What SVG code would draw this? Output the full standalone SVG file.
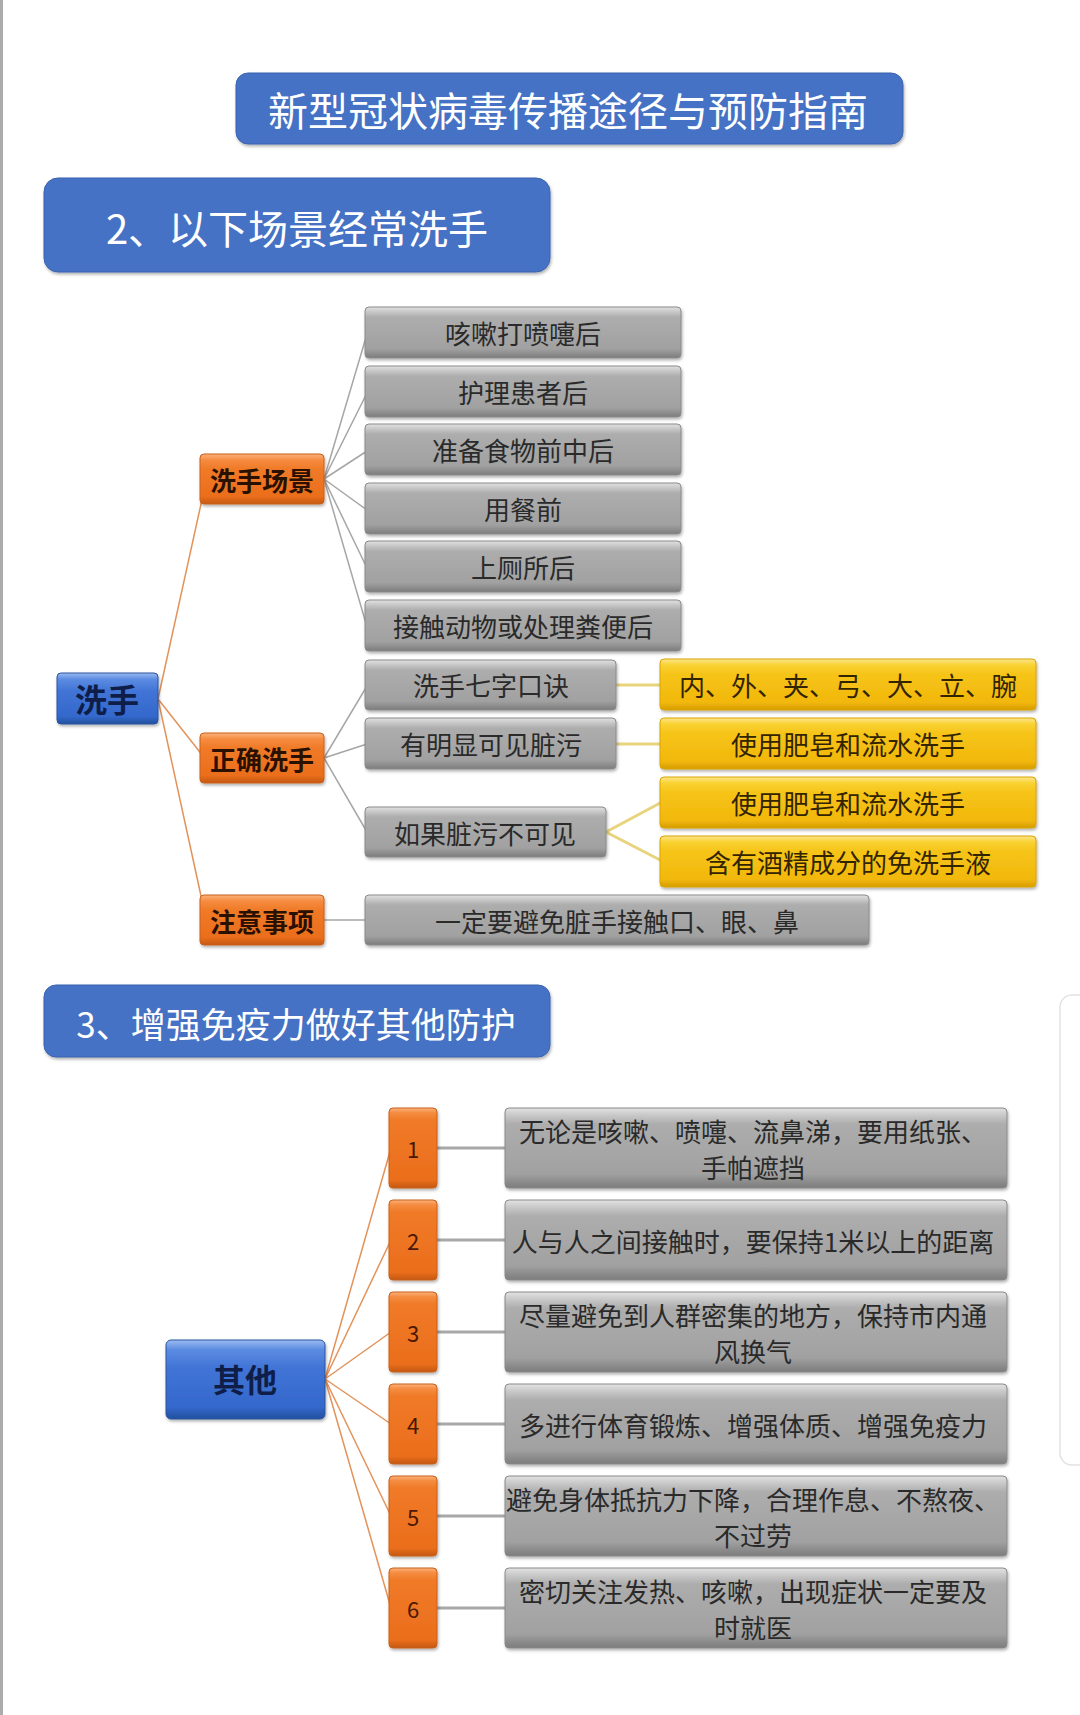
<svg xmlns="http://www.w3.org/2000/svg" width="1080" height="1715" viewBox="0 0 1080 1715">
<defs>
<linearGradient id="gGray" x1="0" y1="0" x2="0" y2="1">
<stop offset="0" stop-color="#e2e2e2"/><stop offset="0.1" stop-color="#c6c6c6"/><stop offset="0.2" stop-color="#adadad"/><stop offset="0.82" stop-color="#a1a1a1"/><stop offset="1" stop-color="#7c7c7c"/>
</linearGradient>
<linearGradient id="gOrange" x1="0" y1="0" x2="0" y2="1">
<stop offset="0" stop-color="#fbb27c"/><stop offset="0.12" stop-color="#f58c40"/><stop offset="0.3" stop-color="#f07a28"/><stop offset="0.85" stop-color="#eb6e1c"/><stop offset="1" stop-color="#c45810"/>
</linearGradient>
<linearGradient id="gOrangeV" x1="0" y1="0" x2="0" y2="1">
<stop offset="0" stop-color="#fbb27c"/><stop offset="0.06" stop-color="#f58c40"/><stop offset="0.15" stop-color="#f07a28"/><stop offset="0.9" stop-color="#eb6e1c"/><stop offset="1" stop-color="#c45810"/>
</linearGradient>
<linearGradient id="gYellow" x1="0" y1="0" x2="0" y2="1">
<stop offset="0" stop-color="#fde68c"/><stop offset="0.12" stop-color="#f9d232"/><stop offset="0.3" stop-color="#f6c418"/><stop offset="0.85" stop-color="#f2b80c"/><stop offset="1" stop-color="#d59c00"/>
</linearGradient>
<linearGradient id="gBlue" x1="0" y1="0" x2="0" y2="1">
<stop offset="0" stop-color="#9cbcf2"/><stop offset="0.12" stop-color="#5c8ce2"/><stop offset="0.35" stop-color="#4174d6"/><stop offset="0.85" stop-color="#3468cc"/><stop offset="1" stop-color="#22509e"/>
</linearGradient>
<filter id="sh" x="-10%" y="-10%" width="120%" height="130%">
<feDropShadow dx="1" dy="2" stdDeviation="1.5" flood-color="#000" flood-opacity="0.3"/>
</filter>
</defs>
<style>
text{font-family:"Noto Sans CJK SC","Noto Sans",sans-serif;text-anchor:middle;dominant-baseline:central}
.title{fill:#4472c4;stroke:#3b64ae;stroke-width:1}
.tt{fill:#fff;font-size:40px}
.gray{fill:url(#gGray);stroke:#8a8a8a;stroke-width:1}
.org{fill:url(#gOrange);stroke:#c8601a;stroke-width:1}
.orgv{fill:url(#gOrangeV);stroke:#c8601a;stroke-width:1}
.yel{fill:url(#gYellow);stroke:#d8a400;stroke-width:1}
.blue{fill:url(#gBlue);stroke:#2a559e;stroke-width:1}
.tg{fill:#2a2a2a;font-size:26px}
.to{fill:#2a1000;font-size:26px;font-weight:bold}
.ty{fill:#332400;font-size:26px}
.tb{fill:#0e1e48;font-size:32px;font-weight:bold}
.tn{fill:#4a1800;font-size:22px}
.lo{stroke:#e3925a;stroke-width:1.5;fill:none}
.lg{stroke:#a6a6a6;stroke-width:1.5;fill:none}
.ly{stroke:#e8d47c;stroke-width:3;fill:none}
.lg2{stroke:#a8a8a8;stroke-width:3;fill:none}
</style>
<rect x="0" y="0" width="1080" height="1715" fill="#ffffff"/>
<rect x="0" y="0" width="3" height="1715" fill="#ababab"/>
<rect x="1060" y="995" width="40" height="470" rx="12" fill="none" stroke="#e2e2e2" stroke-width="1.5"/>

<g id="title">
<rect class="title" x="236" y="73" width="667" height="71" rx="12" filter="url(#sh)"/>
<text class="tt" x="568" y="109">新型冠状病毒传播途径与预防指南</text>
</g>
<g id="header2">
<rect class="title" x="44" y="178" width="506" height="94" rx="14" filter="url(#sh)"/>
<text class="tt" x="297" y="227">2、以下场景经常洗手</text>
</g>
<g id="header3">
<rect class="title" x="44" y="985" width="506" height="72" rx="12" filter="url(#sh)"/>
<text class="tt" x="296" y="1022" style="font-size:35px">3、增强免疫力做好其他防护</text>
</g>

<g id="connectors">
<line class="lo" x1="158" y1="699" x2="203" y2="495"/>
<line class="lo" x1="158" y1="699" x2="203" y2="756"/>
<line class="lo" x1="158" y1="699" x2="203" y2="905"/>
<line class="lg" x1="324" y1="479" x2="367" y2="334"/>
<line class="lg" x1="324" y1="479" x2="367" y2="393"/>
<line class="lg" x1="324" y1="479" x2="367" y2="451"/>
<line class="lg" x1="324" y1="479" x2="367" y2="510"/>
<line class="lg" x1="324" y1="479" x2="367" y2="568"/>
<line class="lg" x1="324" y1="479" x2="367" y2="627"/>
<line class="lg" x1="324" y1="758" x2="367" y2="686"/>
<line class="lg" x1="324" y1="758" x2="367" y2="744"/>
<line class="lg" x1="324" y1="758" x2="367" y2="832"/>
<line class="lg" x1="324" y1="920" x2="367" y2="920"/>
<line class="ly" x1="616" y1="685" x2="662" y2="685"/>
<line class="ly" x1="616" y1="744" x2="662" y2="744"/>
<line class="ly" x1="606" y1="832" x2="662" y2="802"/>
<line class="ly" x1="606" y1="832" x2="662" y2="861"/>
<line class="lo" x1="325" y1="1379" x2="391" y2="1148"/>
<line class="lo" x1="325" y1="1379" x2="391" y2="1240"/>
<line class="lo" x1="325" y1="1379" x2="391" y2="1332"/>
<line class="lo" x1="325" y1="1379" x2="391" y2="1424"/>
<line class="lo" x1="325" y1="1379" x2="391" y2="1516"/>
<line class="lo" x1="325" y1="1379" x2="391" y2="1608"/>
<line class="lg2" x1="437" y1="1148" x2="506" y2="1148"/>
<line class="lg2" x1="437" y1="1240" x2="506" y2="1240"/>
<line class="lg2" x1="437" y1="1332" x2="506" y2="1332"/>
<line class="lg2" x1="437" y1="1424" x2="506" y2="1424"/>
<line class="lg2" x1="437" y1="1516" x2="506" y2="1516"/>
<line class="lg2" x1="437" y1="1608" x2="506" y2="1608"/>
</g>

<g id="n-xishou"><rect class="blue" x="57" y="673" width="101" height="51" rx="4" filter="url(#sh)"/><text class="tb" x="107" y="698">洗手</text></g>
<g id="n-changjing"><rect class="org" x="200" y="454" width="124" height="50" rx="4" filter="url(#sh)"/><text class="to" x="262" y="479">洗手场景</text></g>
<g id="n-zhengque"><rect class="org" x="200" y="733" width="124" height="50" rx="4" filter="url(#sh)"/><text class="to" x="262" y="758">正确洗手</text></g>
<g id="n-zhuyi"><rect class="org" x="200" y="895" width="124" height="50" rx="4" filter="url(#sh)"/><text class="to" x="262" y="920">注意事项</text></g>

<g id="s1"><rect class="gray" x="365" y="307" width="316" height="51" rx="4" filter="url(#sh)"/><text class="tg" x="523" y="332">咳嗽打喷嚏后</text></g>
<g id="s2"><rect class="gray" x="365" y="366" width="316" height="51" rx="4" filter="url(#sh)"/><text class="tg" x="523" y="391">护理患者后</text></g>
<g id="s3"><rect class="gray" x="365" y="424" width="316" height="51" rx="4" filter="url(#sh)"/><text class="tg" x="523" y="449">准备食物前中后</text></g>
<g id="s4"><rect class="gray" x="365" y="483" width="316" height="51" rx="4" filter="url(#sh)"/><text class="tg" x="523" y="508">用餐前</text></g>
<g id="s5"><rect class="gray" x="365" y="541" width="316" height="51" rx="4" filter="url(#sh)"/><text class="tg" x="523" y="566">上厕所后</text></g>
<g id="s6"><rect class="gray" x="365" y="600" width="316" height="51" rx="4" filter="url(#sh)"/><text class="tg" x="523" y="625">接触动物或处理粪便后</text></g>

<g id="c1"><rect class="gray" x="365" y="660" width="251" height="50" rx="4" filter="url(#sh)"/><text class="tg" x="491" y="684">洗手七字口诀</text></g>
<g id="c2"><rect class="gray" x="365" y="718" width="251" height="51" rx="4" filter="url(#sh)"/><text class="tg" x="491" y="743">有明显可见脏污</text></g>
<g id="c3"><rect class="gray" x="365" y="807" width="241" height="50" rx="4" filter="url(#sh)"/><text class="tg" x="485" y="832">如果脏污不可见</text></g>
<g id="c4"><rect class="gray" x="365" y="895" width="504" height="50" rx="4" filter="url(#sh)"/><text class="tg" x="617" y="920">一定要避免脏手接触口、眼、鼻</text></g>

<g id="y1"><rect class="yel" x="660" y="659" width="376" height="51" rx="4" filter="url(#sh)"/><text class="ty" x="848" y="684">内、外、夹、弓、大、立、腕</text></g>
<g id="y2"><rect class="yel" x="660" y="718" width="376" height="51" rx="4" filter="url(#sh)"/><text class="ty" x="848" y="743">使用肥皂和流水洗手</text></g>
<g id="y3"><rect class="yel" x="660" y="777" width="376" height="51" rx="4" filter="url(#sh)"/><text class="ty" x="848" y="802">使用肥皂和流水洗手</text></g>
<g id="y4"><rect class="yel" x="660" y="836" width="376" height="51" rx="4" filter="url(#sh)"/><text class="ty" x="848" y="861">含有酒精成分的免洗手液</text></g>

<g id="n-qita"><rect class="blue" x="166" y="1340" width="159" height="79" rx="5" filter="url(#sh)"/><text class="tb" x="245" y="1378">其他</text></g>

<g id="o1"><rect class="orgv" x="389" y="1108" width="48" height="80" rx="4" filter="url(#sh)"/><text class="tn" x="413" y="1148">1</text></g>
<g id="o2"><rect class="orgv" x="389" y="1200" width="48" height="80" rx="4" filter="url(#sh)"/><text class="tn" x="413" y="1240">2</text></g>
<g id="o3"><rect class="orgv" x="389" y="1292" width="48" height="80" rx="4" filter="url(#sh)"/><text class="tn" x="413" y="1332">3</text></g>
<g id="o4"><rect class="orgv" x="389" y="1384" width="48" height="80" rx="4" filter="url(#sh)"/><text class="tn" x="413" y="1424">4</text></g>
<g id="o5"><rect class="orgv" x="389" y="1476" width="48" height="80" rx="4" filter="url(#sh)"/><text class="tn" x="413" y="1516">5</text></g>
<g id="o6"><rect class="orgv" x="389" y="1568" width="48" height="80" rx="4" filter="url(#sh)"/><text class="tn" x="413" y="1608">6</text></g>

<g id="g1"><rect class="gray" x="505" y="1108" width="502" height="80" rx="4" filter="url(#sh)"/><text class="tg" x="753" y="1130">无论是咳嗽、喷嚏、流鼻涕，要用纸张、</text><text class="tg" x="753" y="1166">手帕遮挡</text></g>
<g id="g2"><rect class="gray" x="505" y="1200" width="502" height="80" rx="4" filter="url(#sh)"/><text class="tg" x="753" y="1240">人与人之间接触时，要保持1米以上的距离</text></g>
<g id="g3"><rect class="gray" x="505" y="1292" width="502" height="80" rx="4" filter="url(#sh)"/><text class="tg" x="753" y="1314">尽量避免到人群密集的地方，保持市内通</text><text class="tg" x="753" y="1350">风换气</text></g>
<g id="g4"><rect class="gray" x="505" y="1384" width="502" height="80" rx="4" filter="url(#sh)"/><text class="tg" x="753" y="1424">多进行体育锻炼、增强体质、增强免疫力</text></g>
<g id="g5"><rect class="gray" x="505" y="1476" width="502" height="80" rx="4" filter="url(#sh)"/><text class="tg" x="753" y="1498">避免身体抵抗力下降，合理作息、不熬夜、</text><text class="tg" x="753" y="1534">不过劳</text></g>
<g id="g6"><rect class="gray" x="505" y="1568" width="502" height="80" rx="4" filter="url(#sh)"/><text class="tg" x="753" y="1590">密切关注发热、咳嗽，出现症状一定要及</text><text class="tg" x="753" y="1626">时就医</text></g>
</svg>
